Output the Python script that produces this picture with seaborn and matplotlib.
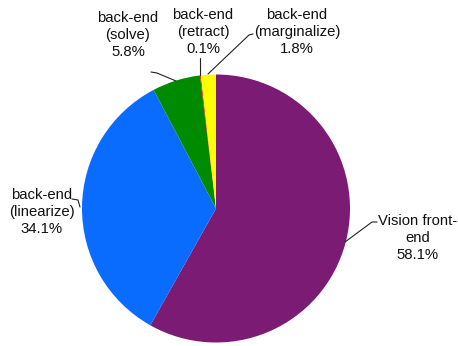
import matplotlib
matplotlib.use("Agg")
import matplotlib.pyplot as plt
import seaborn as sns

sns.set_theme(style="white")
plt.rcParams['font.family'] = ['Liberation Sans', 'DejaVu Sans']

categories = ["Vision front-\nend", "back-end\n(linearize)", "back-end\n(solve)",
              "back-end\n(retract)", "back-end\n(marginalize)"]
values = [58.1, 34.1, 5.8, 0.1, 1.8]
colors = ["#7B1B74", "#0A6CFF", "#008A00", "#FF0000", "#FFFF00"]

W, H = 458, 346
fig = plt.figure(figsize=(W / 100, H / 100), dpi=100)
ax = fig.add_axes([0, 0, 1, 1])

cx, cy, r = 216, H - 208.5, 134
ax.pie(values, colors=colors, startangle=90, counterclock=False,
       center=(cx, cy), radius=r, frame=True,
       wedgeprops=dict(linewidth=0))
ax.set_xlim(0, W)
ax.set_ylim(0, H)
ax.set_aspect("equal")
ax.axis("off")

# label positions (pixel coords, y downward) and leader lines
label_pos = [(418, 238), (42, 212), (128, 35), (203, 32), (297, 32)]
leaders = [
    [(377, 222), (372, 222), (345, 242)],
    [(72, 199), (78, 200), (80, 207)],
    [(151, 72), (157, 73), (176, 81)],
    [(200, 58), (200, 75)],
    [(253, 34), (249, 35), (208, 74)],
]

for name, v, (lx, ly), pts in zip(categories, values, label_pos, leaders):
    ax.text(lx, H - ly, f"{name}\n{v:.1f}%", ha="center", va="center",
            fontsize=10.7, color="#111111", linespacing=1.3)
    xs = [p[0] for p in pts]
    ys = [H - p[1] for p in pts]
    ax.plot(xs, ys, color="#222222", linewidth=0.8)

fig.savefig("out.png", dpi=100)
